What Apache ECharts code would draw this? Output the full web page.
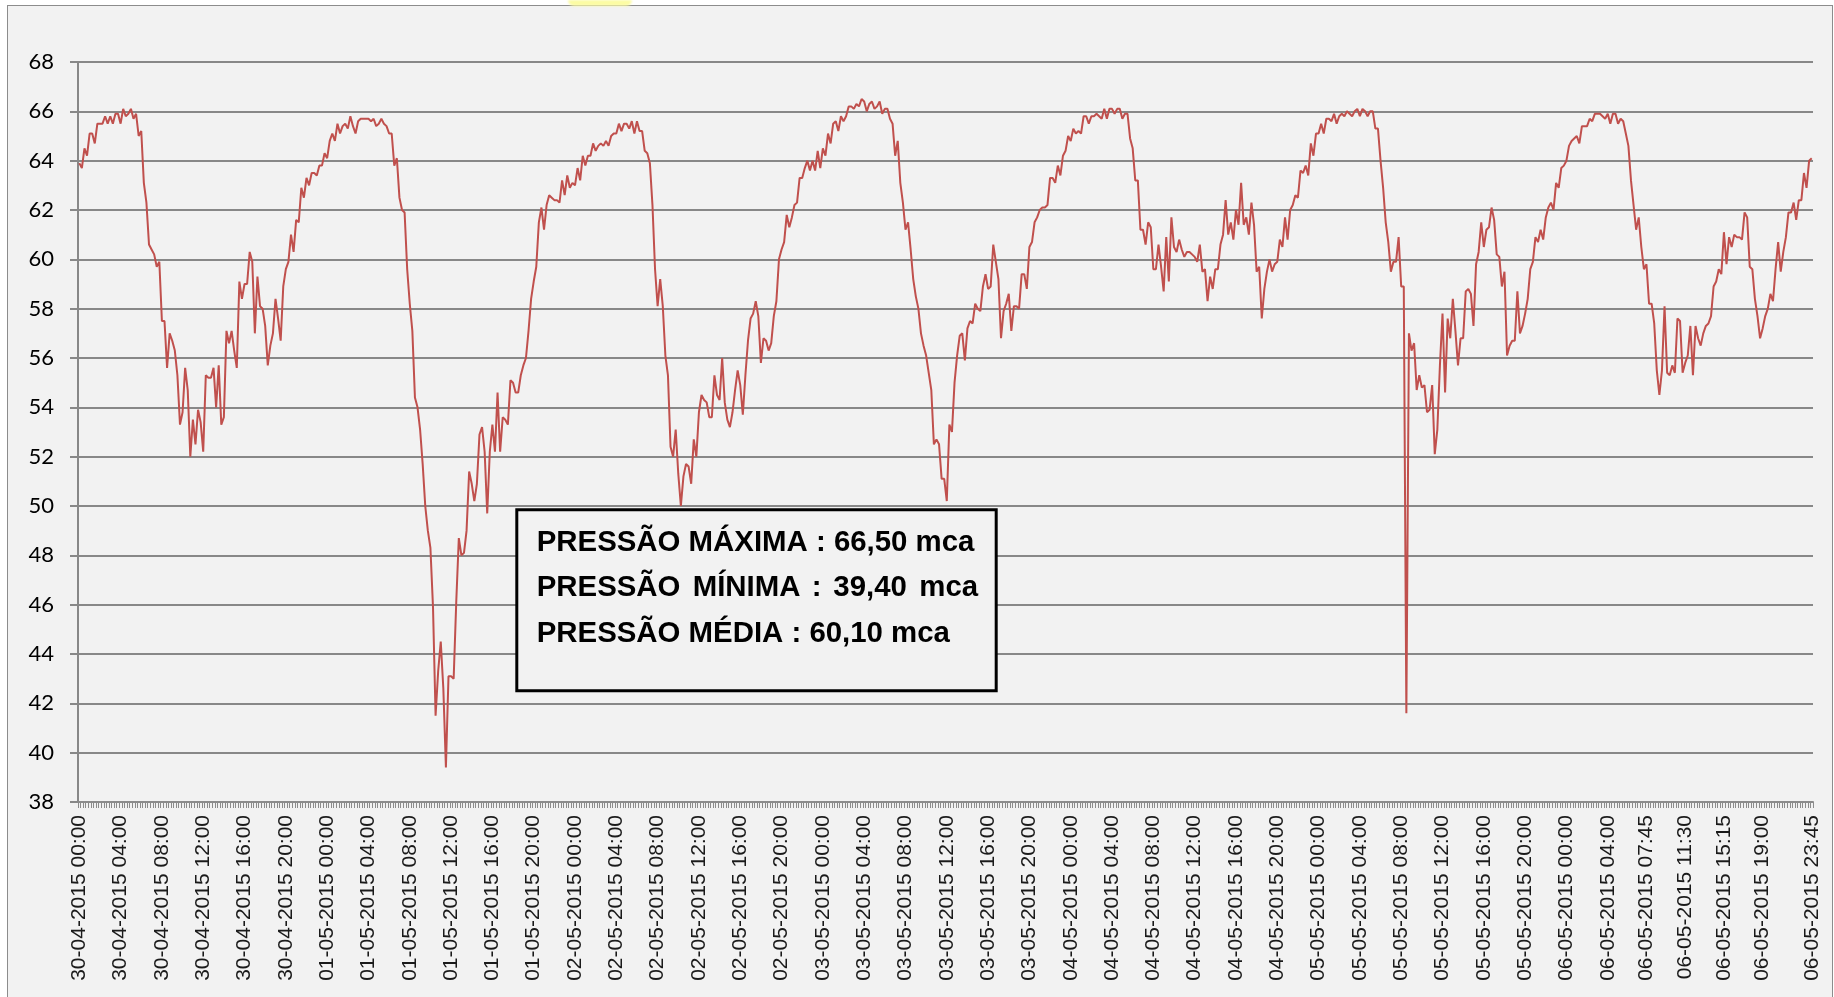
<!DOCTYPE html>
<html lang="pt">
  <head>
    <meta charset="UTF-8" />
    <title>Pressão</title>
    <style>
      html,
      body {
        margin: 0;
        padding: 0;
        background: #ffffff;
      }
      #frame {
        position: absolute;
        left: 7px;
        top: 5px;
        width: 1826px;
        height: 1000px;
        box-sizing: border-box;
        background: #f2f2f2;
        border: 1px solid #8c8c8c;
      }
      #mark {
        position: absolute;
        left: 568px;
        top: 0;
        width: 64px;
        height: 6px;
        background: #fcfca4;
        border-radius: 0 0 30px 30px;
        filter: blur(1px);
        z-index: 2;
      }
      #main {
        position: absolute;
        left: 0;
        top: 0;
        width: 1834px;
        height: 997px;
        z-index: 1;
      }
    </style>
  </head>
  <body>
    <div id="frame"></div>
    <div id="mark"></div>
    <div id="main"></div>
    <script src="https://cdn.jsdelivr.net/npm/echarts@6/dist/echarts.min.js"></script>
    <script>
      // dias do período (leituras a cada 15 minutos)
      const days = ["30-04-2015", "01-05-2015", "02-05-2015", "03-05-2015", "04-05-2015", "05-05-2015", "06-05-2015"];

      // rótulos que aparecem no eixo horizontal
      const tickLabels = [
        "30-04-2015 00:00", "30-04-2015 04:00", "30-04-2015 08:00", "30-04-2015 12:00", "30-04-2015 16:00", "30-04-2015 20:00",
        "01-05-2015 00:00", "01-05-2015 04:00", "01-05-2015 08:00", "01-05-2015 12:00", "01-05-2015 16:00", "01-05-2015 20:00",
        "02-05-2015 00:00", "02-05-2015 04:00", "02-05-2015 08:00", "02-05-2015 12:00", "02-05-2015 16:00", "02-05-2015 20:00",
        "03-05-2015 00:00", "03-05-2015 04:00", "03-05-2015 08:00", "03-05-2015 12:00", "03-05-2015 16:00", "03-05-2015 20:00",
        "04-05-2015 00:00", "04-05-2015 04:00", "04-05-2015 08:00", "04-05-2015 12:00", "04-05-2015 16:00", "04-05-2015 20:00",
        "05-05-2015 00:00", "05-05-2015 04:00", "05-05-2015 08:00", "05-05-2015 12:00", "05-05-2015 16:00", "05-05-2015 20:00",
        "06-05-2015 00:00", "06-05-2015 04:00", "06-05-2015 07:45", "06-05-2015 11:30", "06-05-2015 15:15", "06-05-2015 19:00",
        "06-05-2015 23:45"
      ];

      // pressão (mca), 96 leituras por dia
      const p30_04 = [
        63.9, 63.7, 64.5, 64.2, 65.1, 65.1, 64.7, 65.5, 65.5, 65.5,
        65.8, 65.5, 65.8, 65.5, 65.9, 65.9, 65.5, 66.1, 65.8, 65.9,
        66.1, 65.7, 65.9, 65.0, 65.2, 63.1, 62.3, 60.6, 60.4, 60.2,
        59.7, 59.9, 57.5, 57.5, 55.6, 57.0, 56.7, 56.3, 55.3, 53.3,
        53.8, 55.6, 54.7, 52.0, 53.5, 52.5, 53.9, 53.4, 52.2, 55.3,
        55.2, 55.2, 55.6, 54.0, 55.7, 53.3, 53.6, 57.1, 56.6, 57.1,
        56.3, 55.6, 59.1, 58.4, 59.0, 59.0, 60.3, 59.9, 57.0, 59.3,
        58.1, 58.0, 57.3, 55.7, 56.5, 57.0, 58.4, 57.6, 56.7, 58.9,
        59.6, 59.9, 61.0, 60.3, 61.6, 61.5, 62.9, 62.5, 63.3, 63.0,
        63.5, 63.5, 63.4, 63.8, 63.8, 64.3
      ];
      const p01_05 = [
        64.1, 64.8, 65.1, 64.8,
        65.5, 65.1, 65.4, 65.5, 65.3, 65.8, 65.4, 65.1, 65.6, 65.7,
        65.7, 65.7, 65.7, 65.6, 65.7, 65.4, 65.5, 65.7, 65.5, 65.4,
        65.1, 65.1, 63.8, 64.1, 62.5, 62.0, 61.9, 59.6, 58.2, 57.1,
        54.4, 54.0, 53.1, 51.7, 50.0, 49.0, 48.3, 45.9, 41.5, 43.3,
        44.5, 42.6, 39.4, 43.1, 43.1, 43.0, 46.1, 48.7, 48.0, 48.1,
        49.0, 51.4, 50.9, 50.2, 50.9, 52.9, 53.2, 52.2, 49.7, 52.2,
        53.3, 52.2, 54.6, 52.2, 53.6, 53.5, 53.3, 55.1, 55.0, 54.6,
        54.6, 55.3, 55.7, 56.0, 57.1, 58.4, 59.1, 59.7, 61.5, 62.1,
        61.2, 62.2, 62.6, 62.5, 62.4, 62.4, 62.3, 63.2, 62.6, 63.4,
        62.9, 63.1
      ];
      const p02_05 = [
        63.0, 63.7, 63.2, 64.2, 63.8, 64.2, 64.2, 64.7,
        64.4, 64.6, 64.7, 64.6, 64.8, 64.6, 65.0, 65.1, 65.1, 65.5,
        65.2, 65.5, 65.5, 65.3, 65.6, 65.1, 65.6, 65.2, 65.2, 64.4,
        64.3, 63.9, 62.2, 59.6, 58.1, 59.2, 58.1, 56.1, 55.3, 52.4,
        52.0, 53.1, 51.3, 50.0, 51.2, 51.7, 51.6, 50.9, 52.7, 52.0,
        53.8, 54.5, 54.3, 54.2, 53.6, 53.6, 55.3, 54.5, 54.3, 56.0,
        54.2, 53.5, 53.2, 53.8, 54.7, 55.5, 54.9, 53.7, 55.3, 56.7,
        57.6, 57.8, 58.3, 57.7, 55.8, 56.8, 56.7, 56.3, 56.6, 57.7,
        58.3, 60.0, 60.4, 60.7, 61.8, 61.3, 61.7, 62.2, 62.3, 63.3,
        63.3, 63.7, 64.0, 63.6, 64.0, 63.6, 64.4, 63.7
      ];
      const p03_05 = [
        64.5, 64.2,
        65.1, 64.7, 65.5, 65.6, 65.2, 65.8, 65.6, 65.8, 66.2, 66.2,
        66.1, 66.3, 66.2, 66.5, 66.4, 66.0, 66.3, 66.4, 66.1, 66.2,
        66.4, 65.9, 66.1, 66.1, 65.7, 65.5, 64.2, 64.8, 63.1, 62.3,
        61.2, 61.5, 60.4, 59.2, 58.5, 58.0, 57.0, 56.5, 56.1, 55.4,
        54.7, 52.5, 52.7, 52.5, 51.1, 51.1, 50.2, 53.3, 53.0, 55.0,
        56.1, 56.9, 57.0, 55.9, 57.2, 57.5, 57.4, 58.2, 58.0, 57.9,
        58.9, 59.4, 58.8, 58.9, 60.6, 59.9, 59.2, 56.8, 57.9, 58.2,
        58.6, 57.1, 58.1, 58.1, 58.0, 59.4, 59.4, 58.8, 60.5, 60.7,
        61.5, 61.7, 62.0, 62.1, 62.1, 62.2, 63.3, 63.3, 63.1, 63.8,
        63.4, 64.2, 64.4, 65.0
      ];
      const p04_05 = [
        64.8, 65.3, 65.1, 65.2, 65.1, 65.8,
        65.8, 65.5, 65.8, 65.8, 65.9, 65.8, 65.7, 66.1, 65.7, 66.1,
        66.1, 65.9, 66.1, 66.1, 65.7, 65.9, 65.9, 64.9, 64.5, 63.2,
        63.2, 61.2, 61.2, 60.6, 61.5, 61.3, 59.6, 59.6, 60.6, 59.7,
        58.7, 60.9, 59.1, 61.7, 60.5, 60.3, 60.8, 60.4, 60.1, 60.3,
        60.3, 60.2, 60.1, 59.9, 60.6, 59.5, 59.6, 58.3, 59.3, 58.8,
        59.6, 59.6, 60.6, 61.0, 62.4, 61.0, 61.5, 60.8, 62.0, 61.4,
        63.1, 61.4, 61.7, 61.0, 62.3, 61.4, 59.5, 59.7, 57.6, 58.8,
        59.5, 60.0, 59.5, 59.8, 59.9, 60.8, 60.5, 61.7, 60.8, 62.0,
        62.2, 62.6, 62.5, 63.6, 63.5, 63.8, 63.4, 64.7, 64.2, 65.1
      ];
      const p05_05 = [
        65.1, 65.5, 65.1, 65.7, 65.7, 65.6, 65.9, 65.5, 65.8, 65.9,
        65.8, 66.0, 65.9, 65.8, 66.0, 66.1, 65.8, 66.1, 66.0, 65.8,
        66.0, 66.0, 65.3, 65.3, 64.0, 62.9, 61.5, 60.7, 59.5, 59.9,
        59.9, 60.9, 58.9, 58.9, 41.6, 57.0, 56.3, 56.6, 54.7, 55.3,
        54.8, 54.9, 53.8, 53.9, 54.9, 52.1, 53.1, 55.7, 57.8, 54.6,
        57.6, 56.8, 58.4, 57.1, 55.7, 56.8, 56.8, 58.7, 58.8, 58.6,
        57.3, 59.8, 60.3, 61.5, 60.5, 61.2, 61.3, 62.1, 61.6, 60.2,
        60.1, 58.9, 59.5, 56.1, 56.5, 56.7, 56.7, 58.7, 57.0, 57.3,
        57.8, 58.4, 59.6, 59.9, 60.9, 60.7, 61.2, 60.8, 61.7, 62.1,
        62.3, 62.0, 63.1, 62.9, 63.7, 63.8
      ];
      const p06_05 = [
        64.0, 64.6, 64.8, 64.9,
        65.0, 64.7, 65.4, 65.4, 65.4, 65.7, 65.6, 65.9, 65.9, 65.9,
        65.8, 65.7, 65.9, 65.5, 65.9, 65.9, 65.5, 65.7, 65.6, 65.1,
        64.6, 63.2, 62.2, 61.2, 61.7, 60.5, 59.6, 59.8, 58.2, 58.2,
        57.4, 55.5, 54.5, 55.5, 58.1, 55.4, 55.3, 55.7, 55.4, 57.6,
        57.5, 55.4, 55.8, 56.1, 57.3, 55.3, 57.3, 56.8, 56.5, 57.0,
        57.3, 57.4, 57.7, 58.9, 59.1, 59.6, 59.4, 61.1, 59.8, 60.9,
        60.5, 61.0, 60.9, 60.9, 60.8, 61.9, 61.7, 59.7, 59.6, 58.4,
        57.7, 56.8, 57.2, 57.7, 58.0, 58.6, 58.3, 59.6, 60.7, 59.5,
        60.3, 60.9, 61.9, 61.9, 62.3, 61.6, 62.4, 62.4, 63.5, 62.9,
        64.0, 64.1
      ];

      // caixa de resumo
      const statLines = ["PRESSÃO MÁXIMA : 66,50 mca", "PRESSÃO MÍNIMA : 39,40 mca", "PRESSÃO MÉDIA : 60,10 mca"];

      const pressure = [].concat(p30_04, p01_05, p02_05, p03_05, p04_05, p05_05, p06_05);

      const pad = (n) => (n < 10 ? "0" + n : "" + n);
      const categories = [];
      days.forEach(function (d) {
        for (let q = 0; q < 96; q++) {
          categories.push(d + " " + pad(Math.floor(q / 4)) + ":" + pad((q % 4) * 15));
        }
      });

      const boxFont = 'bold 29.4px "Liberation Sans", Arial, sans-serif';
      const textX = 536.7;
      const lineY = [543.3, 588.3, 633.7];
      // a segunda linha é justificada no original
      const line2X = [536.7, 692.7, 811.7, 833.3, 919.3];

      const graphics = [
        {
          type: "rect",
          z: 100,
          shape: { x: 516.8, y: 509.8, width: 479.4, height: 181 },
          style: { fill: "#f2f2f2", stroke: "#000000", lineWidth: 3 },
        },
      ];
      [0, 2].forEach(function (k) {
        graphics.push({
          type: "text",
          z: 101,
          style: {
            text: statLines[k],
            x: textX,
            y: lineY[k],
            font: boxFont,
            fill: "#000000",
            textAlign: "left",
            textVerticalAlign: "middle",
          },
        });
      });
      statLines[1].split(" ").forEach(function (w, j) {
        graphics.push({
          type: "text",
          z: 101,
          style: {
            text: w,
            x: line2X[j],
            y: lineY[1],
            font: boxFont,
            fill: "#000000",
            textAlign: "left",
            textVerticalAlign: "middle",
          },
        });
      });

      const myChart = echarts.init(document.getElementById("main"));
      const option = {
        backgroundColor: "transparent",
        animation: false,
        grid: {
          left: 78,
          right: 21,
          top: 62,
          bottom: 195,
          containLabel: false,
          outerBoundsMode: "none",
        },
        xAxis: {
          type: "category",
          data: categories,
          boundaryGap: true,
          axisLine: { lineStyle: { color: "#8c8c8c", width: 2 } },
          axisTick: {
            show: true,
            interval: 0,
            length: 6,
            lineStyle: { color: "#8c8c8c", width: 1 },
          },
          axisLabel: {
            interval: function (idx, value) {
              return tickLabels.indexOf(value) >= 0;
            },
            rotate: 90,
            margin: 13,
            color: "#1a1a1a",
            fontFamily: '"Liberation Sans", Arial, sans-serif',
            fontSize: 21,
          },
          splitLine: { show: false },
        },
        yAxis: {
          type: "value",
          min: 38,
          max: 68,
          interval: 2,
          axisLine: { show: true, lineStyle: { color: "#888888", width: 2 } },
          axisTick: { show: true, length: 8, lineStyle: { color: "#888888", width: 2 } },
          axisLabel: {
            margin: 24,
            color: "#000000",
            fontFamily: "Lato, sans-serif",
            fontSize: 22,
          },
          splitLine: { show: true, lineStyle: { color: "#888888", width: 2 } },
        },
        series: [
          {
            type: "line",
            data: pressure,
            showSymbol: false,
            symbol: "none",
            lineStyle: { color: "#c0504d", width: 2 },
            itemStyle: { color: "#c0504d" },
          },
        ],
        graphic: graphics,
      };
      myChart.setOption(option);
    </script>
  </body>
</html>
